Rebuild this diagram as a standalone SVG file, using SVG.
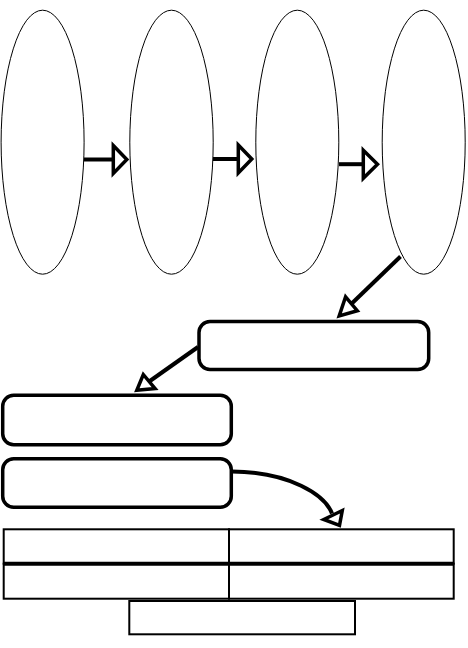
<svg xmlns="http://www.w3.org/2000/svg" width="468" height="648" viewBox="0 0 468 648">
<style>
.ell{fill:#fff;stroke:#000;stroke-width:1}
.box{fill:#fff;stroke:#000;stroke-width:3.5}
.cell{fill:#fff;stroke:#000;stroke-width:2}
.line{fill:none;stroke:#000;stroke-width:4}
.head{fill:#fff;stroke:#000;stroke-width:3.5;stroke-linejoin:miter}
</style>
<rect x="0" y="0" width="468" height="648" fill="#fff"/>
<g id="ellipse1"><ellipse class="ell" cx="42.6" cy="142.2" rx="41.5" ry="132"/></g>
<g id="ellipse2"><ellipse class="ell" cx="171.5" cy="142.2" rx="41.7" ry="132"/></g>
<g id="ellipse3"><ellipse class="ell" cx="297.3" cy="142.2" rx="41.5" ry="132"/></g>
<g id="ellipse4"><ellipse class="ell" cx="423.7" cy="142.2" rx="41.5" ry="132"/></g>
<g id="box1"><rect class="box" x="199" y="321.5" width="229.7" height="48" rx="11" ry="11"/></g>
<g id="box2"><rect class="box" x="2.7" y="395.3" width="228.6" height="49.4" rx="11" ry="11"/></g>
<g id="box3"><rect class="box" x="2.7" y="458.7" width="228.6" height="48.5" rx="11" ry="11"/></g>
<g id="table">
<rect class="cell" x="3.7" y="529.3" width="225.3" height="34.4"/>
<rect class="cell" x="229" y="529.3" width="224.7" height="34.4"/>
<rect class="cell" x="3.7" y="563.7" width="225.3" height="35"/>
<rect class="cell" x="229" y="563.7" width="224.7" height="35"/>
<line x1="3.7" y1="563.7" x2="453.7" y2="563.7" stroke="#000" stroke-width="4"/>
</g>
<g id="footer"><rect class="cell" x="129.3" y="601" width="225.7" height="33.3"/></g>
<g id="connectors">
<line class="line" x1="84" y1="159.5" x2="113.3" y2="159.5"/>
<polygon class="head" points="113.3,145.5 126.8,159.5 113.3,173.5"/>
<line class="line" x1="213" y1="159" x2="238.3" y2="159"/>
<polygon class="head" points="238.3,145 251.8,159 238.3,173"/>
<line class="line" x1="339" y1="164.2" x2="363.3" y2="164.2"/>
<polygon class="head" points="363.3,150.2 377.5,164.2 363.3,178.2"/>
<line class="line" x1="400.5" y1="256.5" x2="351.5" y2="303.7"/>
<polygon class="head" points="345.6,296.8 357.3,310.7 339.2,315.9"/>
<line class="line" x1="198" y1="347" x2="149.2" y2="381.5"/>
<polygon class="head" points="143.3,374.5 155.1,388.6 136.8,390.3"/>
<path class="line" d="M232,471.5 C290,472 325,495 332,513.5"/>
<polygon class="head" points="342.3,510.5 323.8,519.5 339.5,525.3"/>
</g>
</svg>
